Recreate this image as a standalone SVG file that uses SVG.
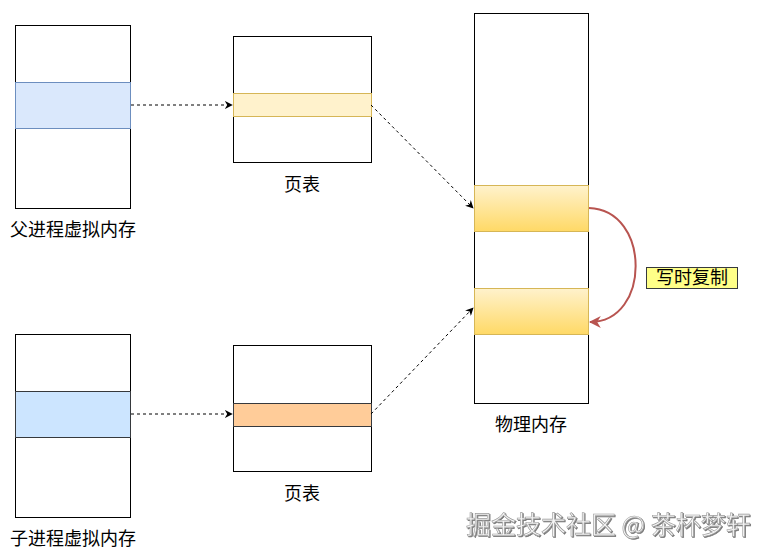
<svg xmlns="http://www.w3.org/2000/svg" width="769" height="559" viewBox="0 0 769 559">
<style>
.box{fill:#fff;stroke:#000;stroke-width:1}
.lbl{font-family:"Noto Sans CJK SC","Liberation Sans",sans-serif;font-size:18px;fill:#000;text-anchor:middle}
.conn{fill:none;stroke:#000;stroke-width:1;stroke-dasharray:3,3}
</style>
<defs>
<linearGradient id="gy" x1="0" y1="0" x2="0" y2="1">
<stop offset="0" stop-color="#fff2cc"/>
<stop offset="1" stop-color="#ffd966"/>
</linearGradient>
<marker id="ah" viewBox="0 0 10 10" refX="9" refY="5" markerWidth="8" markerHeight="8" orient="auto" markerUnits="userSpaceOnUse">
<path d="M0,0 L10,5 L0,10 L3,5 Z" fill="#000"/>
</marker>
<marker id="ahr" viewBox="0 0 10 10" refX="9" refY="5" markerWidth="12" markerHeight="12" orient="auto" markerUnits="userSpaceOnUse">
<path d="M0,0 L10,5 L0,10 L3,5 Z" fill="#b85450"/>
</marker>
<filter id="sh" x="-5%" y="-20%" width="110%" height="140%">
<feDropShadow dx="1" dy="1" stdDeviation="0.6" flood-color="#555" flood-opacity="0.8"/>
</filter>
</defs>

<g id="parent-vm">
<rect class="box" x="15.5" y="25.5" width="115" height="183"/>
<rect x="15.5" y="82.5" width="115" height="46" fill="#dae8fc" stroke="#6c8ebf"/>
<text class="lbl" x="73" y="236">父进程虚拟内存</text>
</g>

<g id="page-table-1">
<rect class="box" x="233.5" y="36.5" width="138" height="126"/>
<rect x="233.5" y="93.5" width="138" height="23" fill="#fff2cc" stroke="#d6b656"/>
<text class="lbl" x="302" y="191">页表</text>
</g>

<g id="physical-memory">
<rect class="box" x="474.5" y="13.5" width="114" height="390"/>
<rect x="474.5" y="185.5" width="114" height="46" fill="url(#gy)" stroke="#d6b656"/>
<rect x="474.5" y="288.5" width="114" height="46" fill="url(#gy)" stroke="#d6b656"/>
<text class="lbl" x="531" y="431">物理内存</text>
</g>

<g id="child-vm">
<rect class="box" x="15.5" y="334.5" width="115" height="183"/>
<rect x="15.5" y="391.5" width="115" height="46" fill="#cce5ff" stroke="#36393d"/>
<text class="lbl" x="73" y="545">子进程虚拟内存</text>
</g>

<g id="page-table-2">
<rect class="box" x="233.5" y="345.5" width="138" height="126"/>
<rect x="233.5" y="403.5" width="138" height="23" fill="#ffcc99" stroke="#36393d"/>
<text class="lbl" x="302" y="500">页表</text>
</g>

<g id="cow-label">
<rect x="646.5" y="267.5" width="91" height="21" fill="#ffff88" stroke="#36393d"/>
<text class="lbl" x="692" y="284">写时复制</text>
</g>

<g id="connectors">
<path class="conn" d="M131,105 L232,105" marker-end="url(#ah)"/>
<path class="conn" d="M371,105 L473,208" marker-end="url(#ah)"/>
<path class="conn" d="M131,414 L232,414" marker-end="url(#ah)"/>
<path class="conn" d="M371,414 L473,308" marker-end="url(#ah)"/>
<path d="M589,208 C651,210 651,322 590,322" fill="none" stroke="#b85450" stroke-width="2" marker-end="url(#ahr)"/>
</g>

<text x="466" y="534" font-family="Noto Sans CJK SC,Liberation Sans,sans-serif" font-size="25" fill="#f4f4f4" stroke="#9a9a9a" stroke-width="0.6" filter="url(#sh)">掘金技术社区 @ 茶杯梦轩</text>
</svg>
